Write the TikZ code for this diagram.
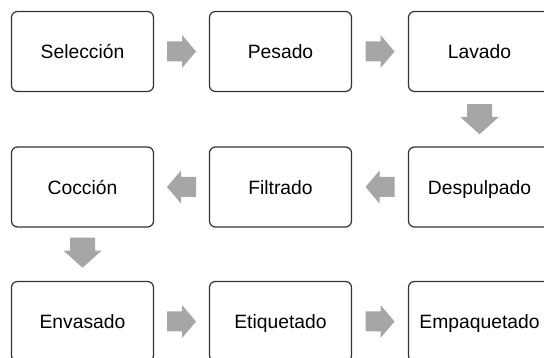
\documentclass[tikz,border=0pt]{standalone}
\usepackage{fontspec}
\setmainfont{Liberation Sans}
\usetikzlibrary{calc}
\definecolor{boxline}{HTML}{333333}
\definecolor{arrowgray}{HTML}{A6A6A6}
\begin{document}
\begin{tikzpicture}[x=1pt,y=-1pt,
  stepbox/.style={draw=boxline, line width=1.2pt, rounded corners=6pt,
    minimum width=142pt, minimum height=80pt, inner sep=0pt,
    text height=18.5pt, text depth=4pt,
    font=\fontsize{19.3}{22}\selectfont, fill=white},
  pics/harrow/.style={code={\fill[arrowgray] (-14.5,-10) -- (0.5,-10) -- (0.5,-16.5) -- (14.5,0) -- (0.5,16.5) -- (0.5,10) -- (-14.5,10) -- cycle;}},
  pics/varrow/.style={code={\fill[arrowgray] (-12.5,-15) -- (12.5,-15) -- (12.5,-2) -- (19,-2) -- (0,15) -- (-19,-2) -- (-12.5,-2) -- cycle;}}
]
\clip (0,0) rectangle (544,358);
\node[stepbox] (sel) at (82.5,51.5) {Selección};
\node[stepbox] (pes) at (280.5,51.5) {Pesado};
\node[stepbox] (lav) at (479.5,51.5) {Lavado};
\node[stepbox] (coc) at (82.5,187) {Cocción};
\node[stepbox] (fil) at (280.5,187) {Filtrado};
\node[stepbox] (des) at (479.5,187) {Despulpado};
\node[stepbox] (env) at (82.5,321.5) {Envasado};
\node[stepbox] (eti) at (280.5,321.5) {Etiquetado};
\node[stepbox] (emp) at (479.5,321.5) {Empaquetado};
\pic at ($(sel.east)!0.5!(pes.west)$) {harrow};
\pic at ($(pes.east)!0.5!(lav.west)$) {harrow};
\pic at ($(lav.south)!0.5!(des.north)$) {varrow};
\pic[xscale=-1] at ($(des.west)!0.5!(fil.east)$) {harrow};
\pic[xscale=-1] at ($(fil.west)!0.5!(coc.east)$) {harrow};
\pic at ($(coc.south)!0.5!(env.north)+(0,-1.5)$) {varrow};
\pic at ($(env.east)!0.5!(eti.west)$) {harrow};
\pic at ($(eti.east)!0.5!(emp.west)$) {harrow};
\end{tikzpicture}
\end{document}
